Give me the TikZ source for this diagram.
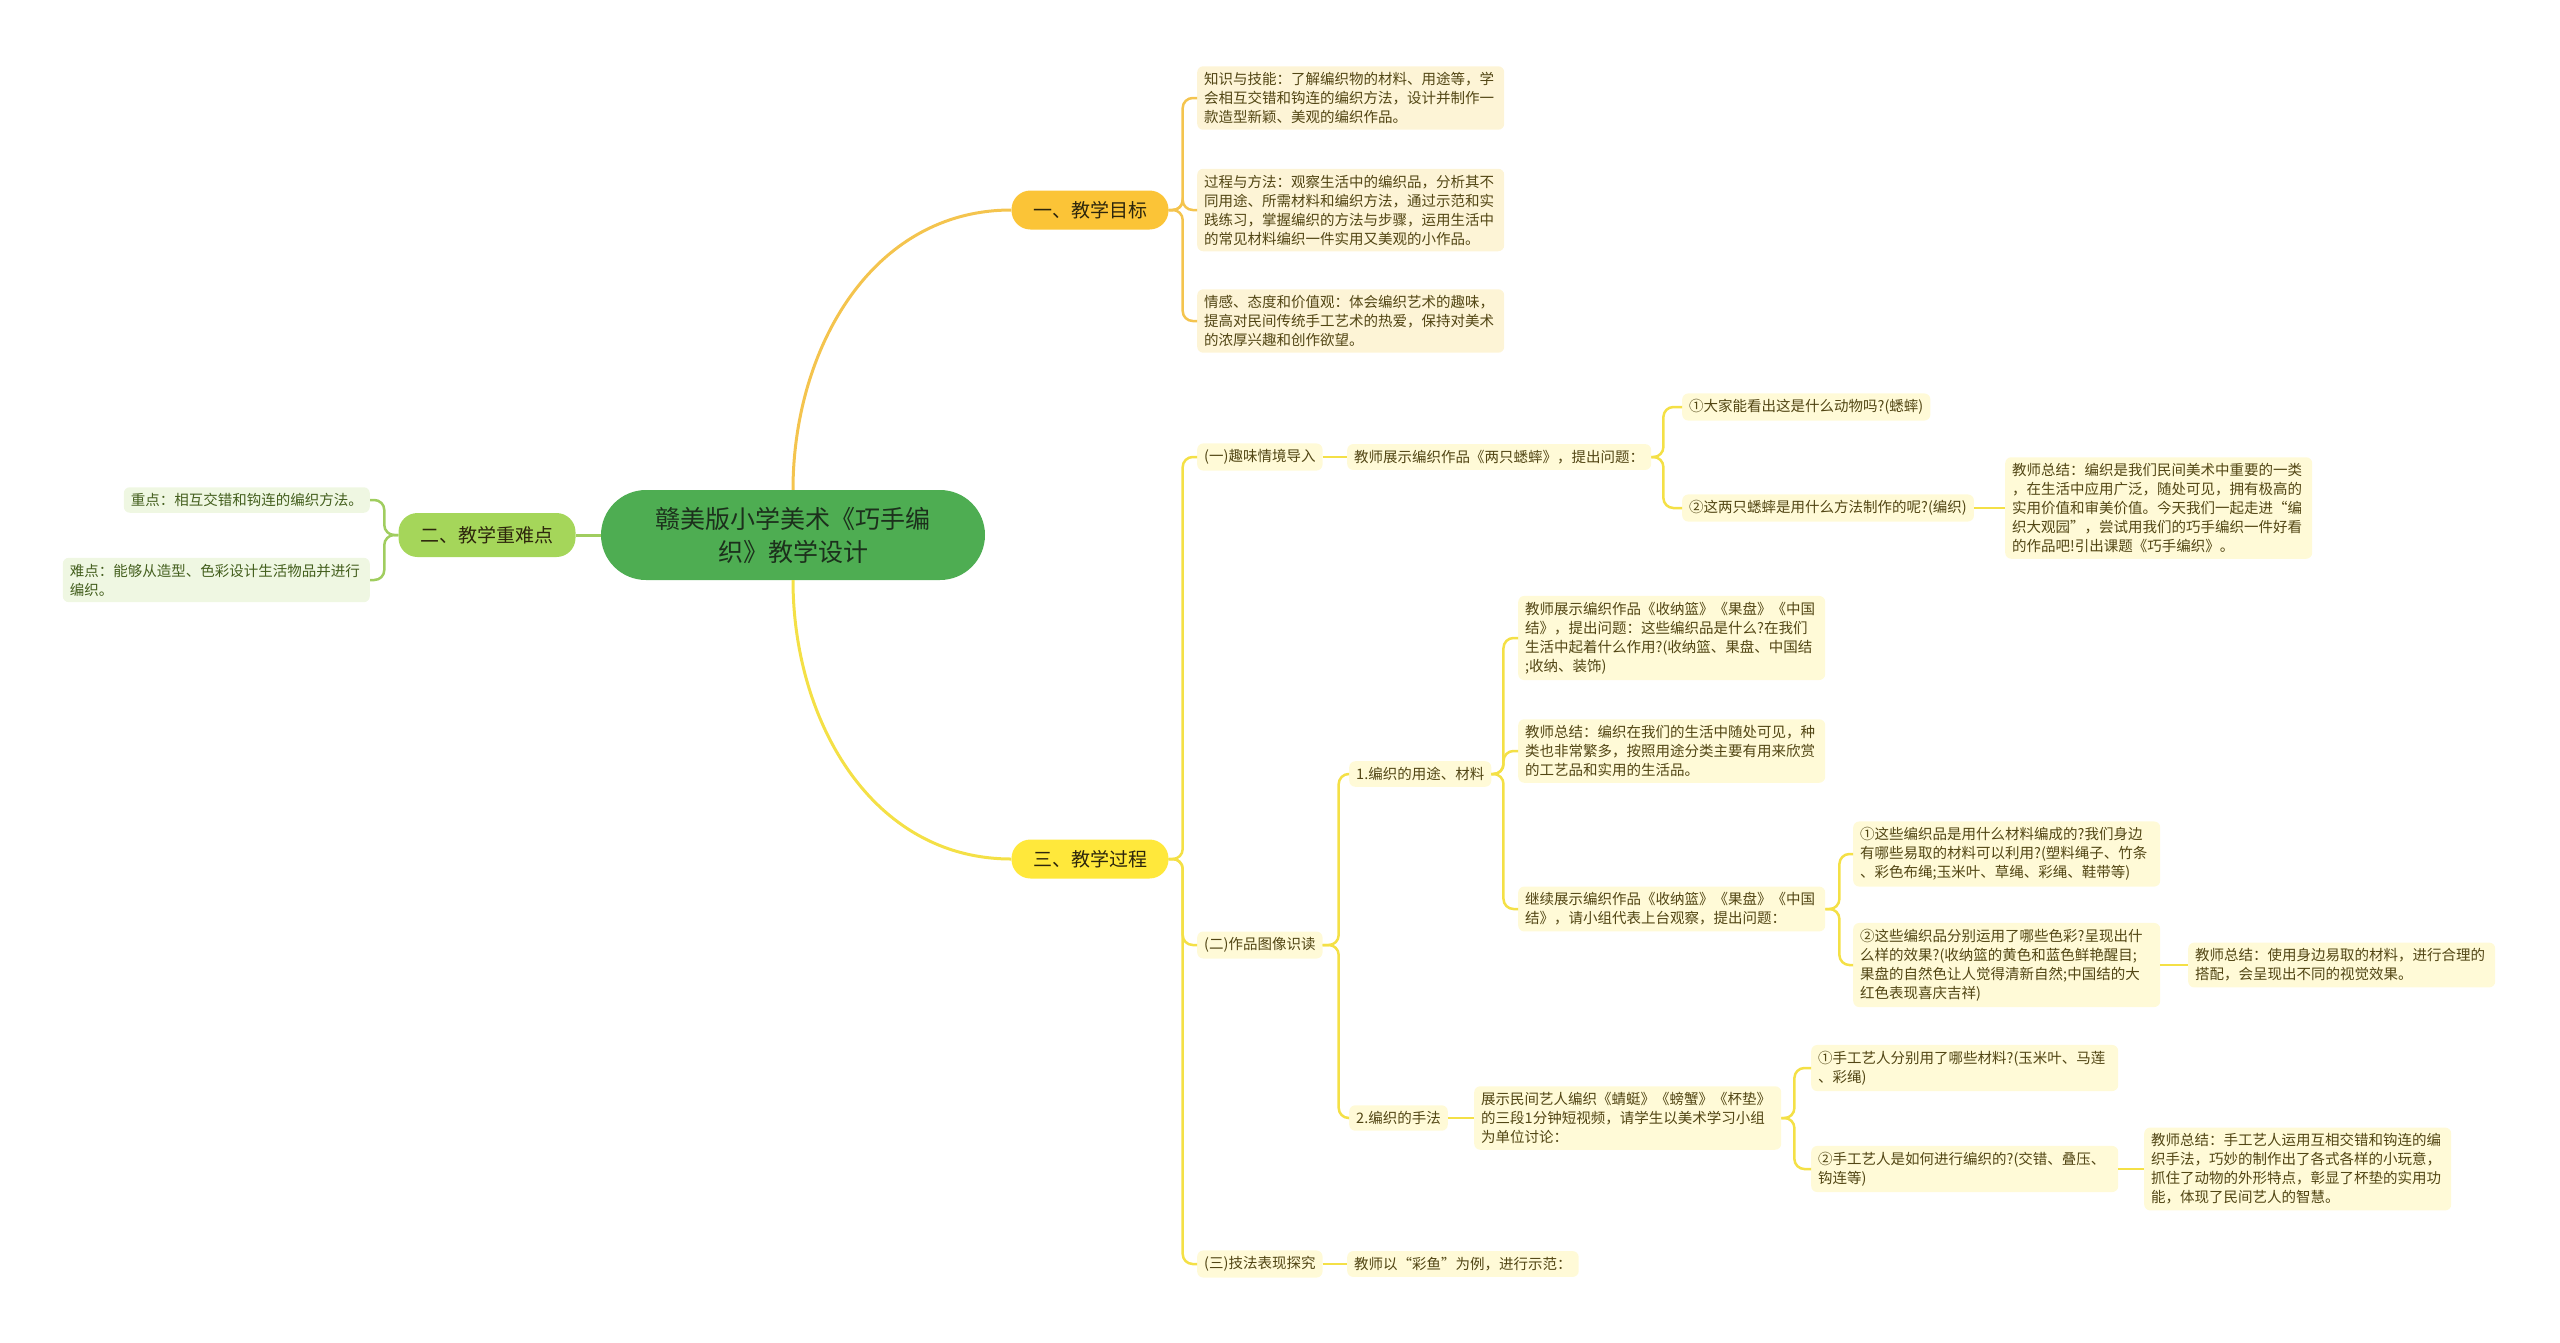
\documentclass[tikz,border=0pt]{standalone}
\usepackage{fontspec}
\setmainfont{Noto Sans CJK SC}
\usepackage{tikz}
\definecolor{rootgreen}{RGB}{78, 173, 82}
\definecolor{roottext}{RGB}{28, 48, 28}
\definecolor{goalfill}{RGB}{251, 196, 55}
\definecolor{goalline}{RGB}{244, 196, 78}
\definecolor{goalleaf}{RGB}{253, 244, 214}
\definecolor{procfill}{RGB}{255, 232, 59}
\definecolor{procline}{RGB}{244, 224, 70}
\definecolor{procleaf}{RGB}{255, 250, 215}
\definecolor{keyfill}{RGB}{165, 214, 90}
\definecolor{keyline}{RGB}{160, 205, 95}
\definecolor{keyleaf}{RGB}{239, 247, 226}
\definecolor{leaftext}{RGB}{82, 70, 20}
\definecolor{keytext}{RGB}{68, 95, 30}
\definecolor{branchtext}{RGB}{45, 38, 12}

\begin{document}
\begin{tikzpicture}[x=1pt, y=-1pt,
    rootbox/.style={fill=rootgreen, text=roottext, rounded corners=45pt,
      minimum width=384pt, minimum height=90pt, align=center,
      font=\fontsize{25}{33}\selectfont},
    branchbox/.style={fill=#1, text=branchtext, rounded corners=19pt,
      minimum width=157pt, minimum height=39pt,
      font=\fontsize{19}{23}\selectfont},
    leafbox/.style={fill=#1, text=leaftext, rounded corners=6pt,
      inner xsep=7pt, inner ysep=6pt, anchor=west, align=left,
      font=\fontsize{14.5}{19}\selectfont},
    wideleaf/.style={leafbox=#1, text width=293pt},
    link/.style={draw=#1, line width=2.5pt, rounded corners=10pt}]

  \useasboundingbox (0,0) rectangle (2560,1342);

  % Root and branches
  \node[rootbox] (root) at (793,535) {赣美版小学美术《巧手编\\织》教学设计};
  \node[branchbox=goalfill] (goal) at (1090,210) {一、教学目标};
  \node[branchbox=keyfill, minimum width=177pt, minimum height=44pt]
    (key) at (487,535) {二、教学重难点};
  \node[branchbox=procfill] (proc) at (1090,859) {三、教学过程};

  \draw[link=goalline, line width=3pt] (root.north)
    .. controls +(0,-140) and +(-140,0) .. (goal.west);
  \draw[link=procline, line width=3pt] (root.south)
    .. controls +(0,140) and +(-140,0) .. (proc.west);
  \draw[link=keyline, line width=3pt] (root.west) -- (key.east);

  % Goals
  \foreach \nm/\yy/\txt in {
      g1/98/{知识与技能：了解编织物的材料、用途等，学\\会相互交错和钩连的编织方法，设计并制作一\\款造型新颖、美观的编织作品。},
      g2/210/{过程与方法：观察生活中的编织品，分析其不\\同用途、所需材料和编织方法，通过示范和实\\践练习，掌握编织的方法与步骤，运用生活中\\的常见材料编织一件实用又美观的小作品。},
      g3/321/{情感、态度和价值观：体会编织艺术的趣味，\\提高对民间传统手工艺术的热爱，保持对美术\\的浓厚兴趣和创作欲望。}}{
    \node[wideleaf=goalleaf] (\nm) at (1197,\yy) {\txt};
    \draw[link=goalline] (goal.east) -- ++(14,0) |- (\nm.west);
  }

  % Key points
  \node[leafbox=keyleaf, anchor=east, text=keytext] (key1) at (370,500)
    {重点：相互交错和钩连的编织方法。};
  \node[wideleaf=keyleaf, anchor=east, text=keytext] (key2) at (370,580)
    {难点：能够从造型、色彩设计生活物品并进行\\编织。};
  \foreach \c in {key1,key2}
    \draw[link=keyline] (key.west) -- ++(-14,0) |- (\c.east);

  % Process: (一)
  \node[leafbox=procleaf] (intro) at (1197,457) {(一)趣味情境导入};
  \node[leafbox=procleaf] (introq) at (1347,457)
    {教师展示编织作品《两只蟋蟀》，提出问题：};
  \node[leafbox=procleaf] (q1) at (1682,407) {①大家能看出这是什么动物吗?(蟋蟀)};
  \node[leafbox=procleaf] (q2) at (1682,508) {②这两只蟋蟀是用什么方法制作的呢?(编织)};
  \node[wideleaf=procleaf] (introsum) at (2005,508)
    {教师总结：编织是我们民间美术中重要的一类\\，在生活中应用广泛，随处可见，拥有极高的\\实用价值和审美价值。今天我们一起走进“编\\织大观园”，尝试用我们的巧手编织一件好看\\的作品吧!引出课题《巧手编织》。};

  % Process: (二)
  \node[leafbox=procleaf] (read) at (1197,945) {(二)作品图像识读};
  \node[leafbox=procleaf] (use) at (1349,774) {1.编织的用途、材料};
  \node[wideleaf=procleaf] (use1) at (1518,638)
    {教师展示编织作品《收纳篮》《果盘》《中国\\结》，提出问题：这些编织品是什么?在我们\\生活中起着什么作用?(收纳篮、果盘、中国结\\;收纳、装饰)};
  \node[wideleaf=procleaf] (use2) at (1518,751)
    {教师总结：编织在我们的生活中随处可见，种\\类也非常繁多，按照用途分类主要有用来欣赏\\的工艺品和实用的生活品。};
  \node[wideleaf=procleaf] (use3) at (1518,909)
    {继续展示编织作品《收纳篮》《果盘》《中国\\结》，请小组代表上台观察，提出问题：};
  \node[wideleaf=procleaf] (mat) at (1853,854)
    {①这些编织品是用什么材料编成的?我们身边\\有哪些易取的材料可以利用?(塑料绳子、竹条\\、彩色布绳;玉米叶、草绳、彩绳、鞋带等)};
  \node[wideleaf=procleaf] (col) at (1853,965)
    {②这些编织品分别运用了哪些色彩?呈现出什\\么样的效果?(收纳篮的黄色和蓝色鲜艳醒目;\\果盘的自然色让人觉得清新自然;中国结的大\\红色表现喜庆吉祥)};
  \node[wideleaf=procleaf] (colsum) at (2188,965)
    {教师总结：使用身边易取的材料，进行合理的\\搭配，会呈现出不同的视觉效果。};
  \node[leafbox=procleaf] (way) at (1349,1118) {2.编织的手法};
  \node[wideleaf=procleaf] (video) at (1474,1118)
    {展示民间艺人编织《蜻蜓》《螃蟹》《杯垫》\\的三段1分钟短视频，请学生以美术学习小组\\为单位讨论：};
  \node[wideleaf=procleaf] (way1) at (1811,1068)
    {①手工艺人分别用了哪些材料?(玉米叶、马莲\\、彩绳)};
  \node[wideleaf=procleaf] (way2) at (1811,1169)
    {②手工艺人是如何进行编织的?(交错、叠压、\\钩连等)};
  \node[wideleaf=procleaf] (waysum) at (2144,1169)
    {教师总结：手工艺人运用互相交错和钩连的编\\织手法，巧妙的制作出了各式各样的小玩意，\\抓住了动物的外形特点，彰显了杯垫的实用功\\能，体现了民间艺人的智慧。};

  % Process: (三)
  \node[leafbox=procleaf] (tech) at (1197,1264) {(三)技法表现探究};
  \node[leafbox=procleaf] (fish) at (1347,1264) {教师以“彩鱼”为例，进行示范：};

  % Process links
  \foreach \c in {intro,read,tech}
    \draw[link=procline] (proc.east) -- ++(14,0) |- (\c.west);
  \foreach \c in {q1,q2}
    \draw[link=procline] (introq.east) -- ++(12,0) |- (\c.west);
  \foreach \c in {use,way}
    \draw[link=procline] (read.east) -- ++(16,0) |- (\c.west);
  \foreach \c in {use1,use2,use3}
    \draw[link=procline] (use.east) -- ++(12,0) |- (\c.west);
  \foreach \c in {mat,col}
    \draw[link=procline] (use3.east) -- ++(14,0) |- (\c.west);
  \foreach \c in {way1,way2}
    \draw[link=procline] (video.east) -- ++(13,0) |- (\c.west);
  \draw[link=procline] (intro.east) -- (introq.west);
  \draw[link=procline] (q2.east) -- (introsum.west);
  \draw[link=procline] (col.east) -- (colsum.west);
  \draw[link=procline] (way.east) -- (video.west);
  \draw[link=procline] (way2.east) -- (waysum.west);
  \draw[link=procline] (tech.east) -- (fish.west);
\end{tikzpicture}
\end{document}
